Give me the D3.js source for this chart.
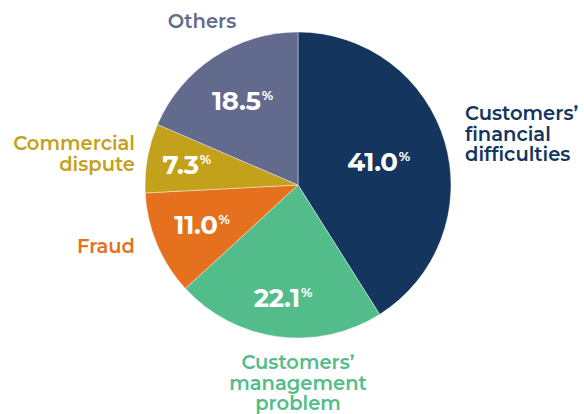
<!DOCTYPE html>
<html><head><meta charset="utf-8">
<script src="https://cdn.jsdelivr.net/npm/d3@7"></script>
<style>
html,body{margin:0;padding:0;background:#fff;}
svg{display:block;font-family:"Montserrat","Open Sans","Lato",sans-serif;}
</style></head>
<body><svg id="c" width="584" height="414"></svg>
<script>
const categories = ["Customers’ financial difficulties","Customers’ management problem","Fraud","Commercial dispute","Others"];
const values = [41.0, 22.1, 11.0, 7.3, 18.5];
const valueLabels = ["41.0","22.1","11.0","7.3","18.5"];
const colors = ["#13355e","#52bd8a","#e5711f","#c4a11a","#626b8e"];
const labelLines = [["Customers’","financial","difficulties"],["Customers’","management","problem"],["Fraud"],["Commercial","dispute"],["Others"]];

const svg = d3.select("#c");
const cx = 298, cy = 185, R = 153;
const g = svg.append("g").attr("transform", `translate(${cx},${cy})`);

const pie = d3.pie().sort(null).value(d => d)(values);
const arc = d3.arc().innerRadius(0).outerRadius(R);

g.selectAll("path").data(pie).join("path")
  .attr("d", arc)
  .attr("fill", (d,i) => colors[i])
  .attr("stroke", "#ffffff").attr("stroke-opacity", 0.6).attr("stroke-width", 0.7);

// value labels (radius per slice, tuned to reference placement)
const labR = [84, 114, 104, 113, 101];
pie.forEach((d,i) => {
  const c = d3.arc().innerRadius(labR[i]).outerRadius(labR[i]).centroid(d);
  const t = g.append("text")
    .attr("x", c[0]).attr("y", c[1] + 9)
    .attr("text-anchor", "middle")
    .attr("fill", "#fff").attr("font-weight", 700).attr("font-size", 26);
  t.append("tspan").text(valueLabels[i]).attr("letter-spacing", -0.3);
  t.append("tspan").text("%").attr("font-size", 13).attr("dy", -10).attr("dx", 1);
});

// category labels
const labelLayout = [
  {x: 465, y: 120, anchor: "start"},
  {x: 298, y: 369, anchor: "middle"},
  {x: 135, y: 253, anchor: "end"},
  {x: 135, y: 150, anchor: "end"},
  {x: 202, y: 28, anchor: "middle"}
];
labelLines.forEach((lines, i) => {
  const L = labelLayout[i];
  lines.forEach((ln, j) => {
    svg.append("text")
      .attr("x", L.x).attr("y", L.y + j * 20.5)
      .attr("text-anchor", L.anchor)
      .attr("fill", colors[i]).attr("font-weight", 600).attr("font-size", 19.5)
      .text(ln);
  });
});
</script></body></html>
